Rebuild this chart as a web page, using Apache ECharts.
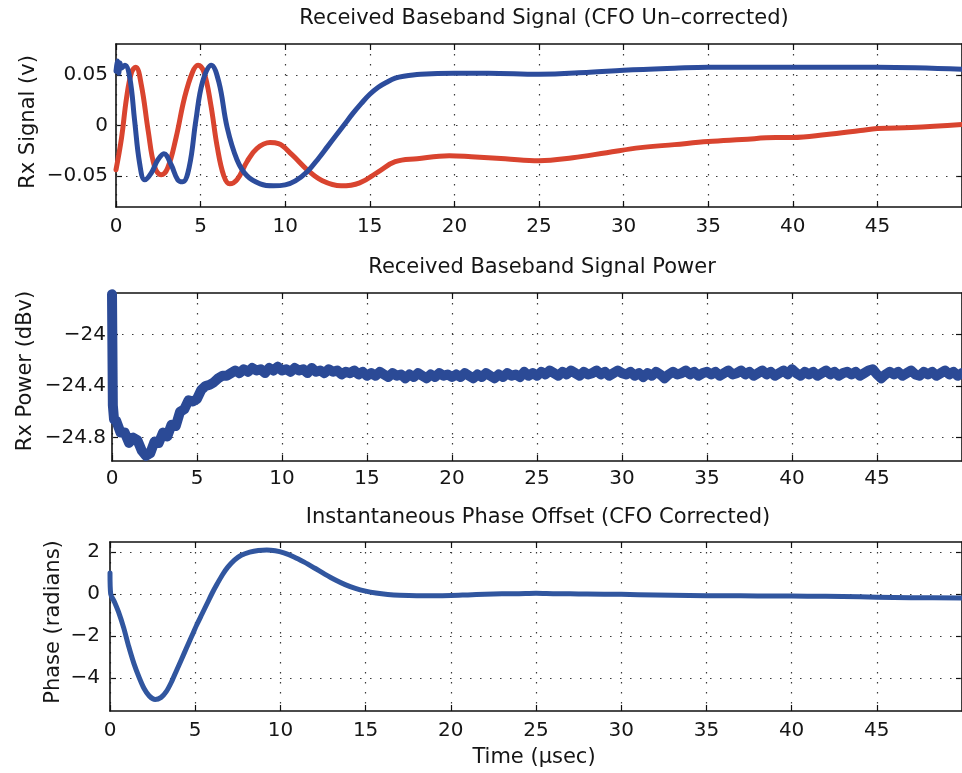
<!DOCTYPE html>
<html>
<head>
<meta charset="utf-8">
<script src="https://cdn.jsdelivr.net/npm/echarts@6.0.0/dist/echarts.min.js"></script>
<style>
  html, body { margin: 0; padding: 0; background: #fff; }
  #chart { width: 962px; height: 773px; }
</style>
</head>
<body>
<div id="chart"></div>
<script>
// ---- tick positions ----
const timeTicks = [0, 5, 10, 15, 20, 25, 30, 35, 40, 45];
const signalTicks = [-0.05, 0, 0.05];
const powerTicks = [-24.8, -24.4, -24];
const phaseTicks = [-4, -2, 0, 2];

// ---- received baseband signal, I (red) and Q (blue), volts vs. microseconds ----
const redTime = [0, 0.33, 0.62, 0.92, 1.17, 1.5, 1.9, 2.28, 2.67, 3.06, 3.55, 4.04, 4.52, 4.85, 5.2,
  5.6, 5.98, 6.37, 6.72, 7.15, 7.74, 8.32, 9.1, 9.6, 10.4, 11.3, 12.2, 13.3, 14.4, 15.5, 16.5, 17.8,
  19.7, 21, 23, 25, 27, 29, 31, 33, 35, 37, 39, 40, 42, 44, 45, 47, 50];
const redSignal = [-0.044, -0.012, 0.027, 0.053, 0.058, 0.04, -0.005, -0.041, -0.049, -0.042, -0.012,
  0.027, 0.053, 0.06, 0.053, 0.021, -0.021, -0.05, -0.058, -0.054, -0.036, -0.023, -0.017, -0.018,
  -0.029, -0.044, -0.055, -0.06, -0.057, -0.046, -0.036, -0.033, -0.030, -0.031, -0.033, -0.035,
  -0.032, -0.027, -0.022, -0.019, -0.016, -0.014, -0.012, -0.012, -0.009, -0.005, -0.003, -0.002, 0.001];

const blueTime = [0, 0.08, 0.16, 0.24, 0.32, 0.53, 0.82, 1.1, 1.4, 1.7, 2.09, 2.48, 2.83, 3.26, 3.65,
  3.94, 4.33, 4.72, 5.11, 5.63, 6.08, 6.57, 7.15, 7.74, 8.52, 9.3, 10.0, 10.6, 11.3, 12.0, 12.5, 13.0,
  13.5, 14.0, 14.5, 15.0, 15.5, 16.0, 16.5, 17.0, 18.0, 20, 22, 25, 28, 30, 33, 35, 40, 45, 50];
const blueSignal = [0.054, 0.064, 0.052, 0.062, 0.057, 0.06, 0.047, 0.005, -0.038, -0.054, -0.047,
  -0.034, -0.028, -0.039, -0.054, -0.056, -0.041, 0.005, 0.043, 0.06, 0.043, -0.002, -0.034, -0.05,
  -0.058, -0.06, -0.059, -0.055, -0.046, -0.032, -0.021, -0.01, 0.001, 0.012, 0.022, 0.031, 0.038,
  0.043, 0.047, 0.049, 0.051, 0.052, 0.052, 0.051, 0.053, 0.055, 0.057, 0.058, 0.058, 0.058, 0.056];

// ---- received power (dBv): leading edge, then samples every 0.25 us from 0.25 to 50 ----
const powerHeadTime = [0, 0.05, 0.12];
const powerHeadDb = [-23.69, -24.55, -24.66];
const powerStep = 0.25;
const powerDb = [
  -24.67, -24.76, -24.76, -24.84, -24.80, -24.82, -24.90, -24.94, -24.92, -24.83, -24.84, -24.76, -24.79, -24.70, -24.71, -24.60, -24.58, -24.51, -24.52, -24.50,
  -24.43, -24.40, -24.39, -24.37, -24.34, -24.32, -24.32, -24.30, -24.28, -24.30, -24.27, -24.29, -24.26, -24.28, -24.27, -24.30, -24.26, -24.28, -24.25, -24.28,
  -24.27, -24.29, -24.26, -24.28, -24.27, -24.30, -24.26, -24.29, -24.28, -24.30, -24.27, -24.29, -24.28, -24.31, -24.29, -24.30, -24.28, -24.31, -24.29, -24.32,
  -24.30, -24.32, -24.29, -24.31, -24.33, -24.30, -24.32, -24.31, -24.34, -24.31, -24.33, -24.30, -24.32, -24.34, -24.31, -24.33, -24.30, -24.32, -24.31, -24.33,
  -24.31, -24.33, -24.30, -24.32, -24.34, -24.31, -24.33, -24.30, -24.32, -24.34, -24.31, -24.33, -24.30, -24.32, -24.31, -24.33, -24.29, -24.32, -24.30, -24.32,
  -24.29, -24.31, -24.28, -24.30, -24.32, -24.29, -24.31, -24.28, -24.30, -24.32, -24.29, -24.31, -24.30, -24.28, -24.31, -24.29, -24.32, -24.30, -24.28, -24.30,
  -24.31, -24.29, -24.32, -24.30, -24.33, -24.30, -24.32, -24.29, -24.31, -24.34, -24.31, -24.29, -24.31, -24.30, -24.28, -24.31, -24.29, -24.32, -24.30, -24.29,
  -24.31, -24.29, -24.32, -24.30, -24.28, -24.31, -24.30, -24.28, -24.31, -24.29, -24.32, -24.30, -24.28, -24.31, -24.29, -24.32, -24.30, -24.28, -24.31, -24.27,
  -24.30, -24.32, -24.29, -24.31, -24.29, -24.32, -24.30, -24.28, -24.31, -24.29, -24.32, -24.30, -24.29, -24.31, -24.29, -24.32, -24.30, -24.28, -24.27, -24.31,
  -24.34, -24.31, -24.29, -24.31, -24.29, -24.32, -24.30, -24.28, -24.31, -24.32, -24.29, -24.31, -24.29, -24.32, -24.30, -24.28, -24.31, -24.29, -24.32, -24.30
];

// ---- instantaneous phase offset after CFO correction (radians) ----
const phaseTime = [0, 0.04, 0.25, 0.5, 0.8, 1.1, 1.4, 1.7, 2.0, 2.3, 2.65, 3.0, 3.3, 3.6, 3.9, 4.2, 4.5,
  4.8, 5.1, 5.4, 5.7, 6.0, 6.3, 6.6, 6.9, 7.3, 7.7, 8.2, 8.7, 9.2, 9.7, 10.2, 10.8, 11.4, 12.0, 12.6,
  13.2, 13.8, 14.4, 15.0, 15.6, 16.3, 17.0, 18.0, 19.0, 20.0, 21.0, 22.0, 23.0, 24.0, 25.0, 26, 27, 28,
  30, 32, 34, 36, 38, 40, 42, 44, 45, 47, 50];
const phaseRad = [1.0, 0.0, -0.35, -0.85, -1.6, -2.5, -3.3, -3.95, -4.5, -4.85, -5.02, -4.92, -4.65,
  -4.2, -3.65, -3.1, -2.55, -2.0, -1.45, -0.95, -0.45, 0.05, 0.5, 0.92, 1.27, 1.62, 1.85, 2.0, 2.08, 2.1,
  2.06, 1.96, 1.77, 1.52, 1.24, 0.95, 0.68, 0.45, 0.27, 0.14, 0.05, -0.02, -0.06, -0.08, -0.08, -0.07,
  -0.04, -0.01, 0.01, 0.02, 0.04, 0.02, 0.01, 0.0, -0.01, -0.05, -0.07, -0.08, -0.09, -0.09, -0.11,
  -0.13, -0.15, -0.17, -0.19];

// ---- styling ----
const FONT = 'DejaVu Sans';
const INK = '#151515';
const RED = '#d9442f';
const BLUE = '#2c4c9c';
const dotted = { type: [1.5, 8.5], color: '#3a3a3a', width: 1.2 };
const frame = { color: '#111', width: 1.6 };
const TIME_MAX = 50;
const PLOT_WIDTH = 852;

const pairs = (xs, ys) => xs.map((x, i) => [x, ys[i]]);
const powerPoints = pairs(powerHeadTime, powerHeadDb)
  .concat(powerDb.map((v, i) => [(i + 1) * powerStep, v]));

const minus = v => (v === 0 ? '0' : String(v).replace('-', '\u2212'));

const panels = [
  { left: 116, top: 44, height: 163, min: -0.081, max: 0.081, ticks: signalTicks, xMargin: 10, yMargin: 8 },
  { left: 112, top: 293, height: 168, min: -24.98, max: -23.68, ticks: powerTicks, xMargin: 8, yMargin: 6 },
  { left: 110, top: 542, height: 169, min: -5.57, max: 2.48, ticks: phaseTicks, xMargin: 10, yMargin: 10 }
];

const xAxes = [];
const yAxes = [];
panels.forEach((p, g) => {
  const xBase = {
    type: 'value', gridIndex: g, min: 0, max: TIME_MAX, interval: 5,
    axisLine: { show: true, onZero: false, lineStyle: frame },
    axisTick: { show: true, inside: true, length: 6, lineStyle: { color: '#111', width: 1.2 } }
  };
  xAxes.push(Object.assign({}, xBase, {
    position: 'bottom',
    axisLabel: {
      show: true, margin: p.xMargin, color: INK, fontFamily: FONT, fontSize: 20,
      showMaxLabel: false,
      formatter: v => (timeTicks.indexOf(v) >= 0 ? String(v) : '')
    },
    splitLine: { show: true, lineStyle: dotted }
  }));
  xAxes.push(Object.assign({}, xBase, {
    position: 'top', axisLabel: { show: false }, splitLine: { show: false }
  }));
  const yBase = {
    type: 'value', gridIndex: g, min: p.min, max: p.max,
    axisLine: { show: true, onZero: false, lineStyle: frame },
    axisTick: { show: true, inside: true, length: 6, customValues: p.ticks, lineStyle: { color: '#111', width: 1.2 } },
    splitLine: { show: false }
  };
  yAxes.push(Object.assign({}, yBase, {
    position: 'left',
    axisLabel: {
      show: true, margin: p.yMargin, color: INK, fontFamily: FONT, fontSize: 20,
      customValues: p.ticks, formatter: minus
    }
  }));
  yAxes.push(Object.assign({}, yBase, {
    position: 'right', axisLabel: { show: false }
  }));
});

// horizontal dotted grid lines placed at each panel's tick values
const gridLines = ticks => ({
  silent: true, symbol: ['none', 'none'], z: 1, animation: false,
  label: { show: false }, lineStyle: dotted,
  emphasis: { disabled: true },
  data: ticks.map(v => ({ yAxis: v }))
});

const lineSeries = (name, data, g, color, width, smooth, withGrid) => ({
  name, type: 'line', data, xAxisIndex: 2 * g, yAxisIndex: 2 * g,
  showSymbol: false, smooth, z: 3, clip: true,
  lineStyle: { color, width, cap: 'round', join: 'round' },
  markLine: withGrid ? gridLines(panels[g].ticks) : undefined
});

const text = (t, x, y, size, rot) => ({
  type: 'text', x, y, rotation: rot || 0, silent: true,
  style: { text: t, fill: INK, fontFamily: FONT, fontSize: size, align: 'center', verticalAlign: 'middle' }
});

const option = {
  animation: false,
  backgroundColor: '#ffffff',
  grid: panels.map(p => ({ left: p.left, top: p.top, width: PLOT_WIDTH, height: p.height })),
  xAxis: xAxes,
  yAxis: yAxes,
  series: [
    lineSeries('I', pairs(redTime, redSignal), 0, RED, 5, 0.4, true),
    lineSeries('Q', pairs(blueTime, blueSignal), 0, BLUE, 5, 0.4, false),
    lineSeries('Power', powerPoints, 1, '#2b4a96', 10, false, true),
    lineSeries('Phase', pairs(phaseTime, phaseRad), 2, '#31569f', 5, 0.3, true)
  ],
  graphic: [
    text('Received Baseband Signal (CFO Un\u2013corrected)', 544, 19, 21),
    text('Received Baseband Signal Power', 542, 268, 21),
    text('Instantaneous Phase Offset (CFO Corrected)', 538, 518, 21),
    text('Rx Signal (v)', 29, 122, 21, Math.PI / 2),
    text('Rx Power (dBv)', 26, 371, 21, Math.PI / 2),
    text('Phase (radians)', 54, 622, 21, Math.PI / 2),
    text('Time (\u03bcsec)', 534, 758, 21)
  ]
};

const chart = echarts.init(document.getElementById('chart'), null, { renderer: 'canvas' });
chart.setOption(option);
</script>
</body>
</html>
